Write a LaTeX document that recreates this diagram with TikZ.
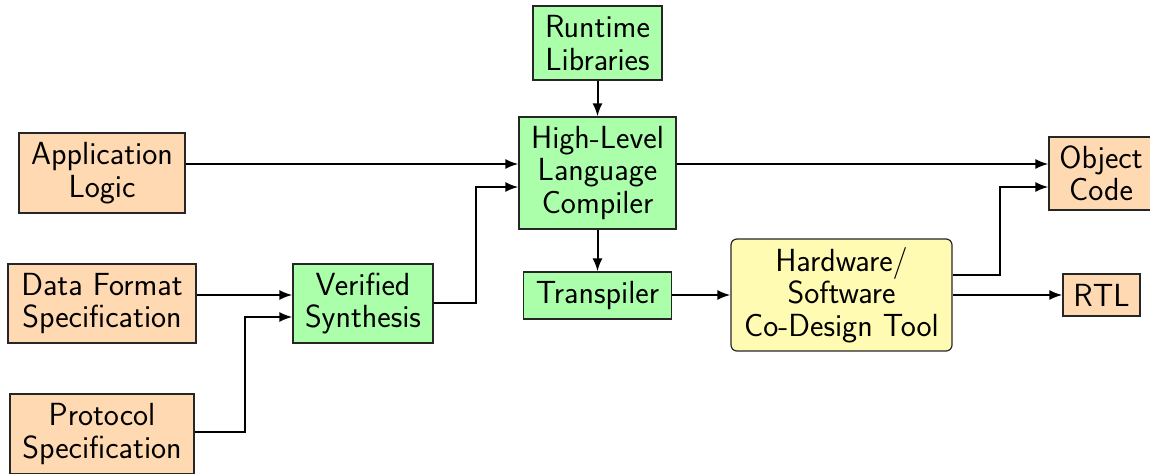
\documentclass[tikz,border=0pt]{standalone}
\usetikzlibrary{arrows.meta,calc}

\tikzset{
  box/.style={draw=black!85, line width=0.6pt, align=center, inner sep=0pt,
              font=\fontsize{16}{16.2}\selectfont\sffamily},
  srcbox/.style={box, fill=orange!30},
  toolbox/.style={box, fill=green!33},
  designbox/.style={box, fill=yellow!30, rounded corners=3pt},
  arr/.style={-{Latex[length=6.5pt,width=5pt]}, line width=1pt},
}

\begin{document}
\begin{tikzpicture}[x=0.5pt, y=-0.5pt]
  \useasboundingbox (0,0) rectangle (1150,474);

  % inputs
  \node[srcbox, minimum width=83pt, minimum height=40pt] (app) at (102,173)
    {Application\\Logic};
  \node[srcbox, minimum width=94pt, minimum height=39.5pt] (data) at (102,303.5)
    {Data Format\\Specification};
  \node[srcbox, minimum width=92pt, minimum height=40pt] (proto) at (102,434)
    {Protocol\\Specification};

  % tool chain
  \node[toolbox, minimum width=70pt, minimum height=39.5pt] (verified) at (363,303.5)
    {Verified\\Synthesis};
  \node[toolbox, minimum width=64.5pt, minimum height=37pt] (runtime) at (597.5,43)
    {Runtime\\Libraries};
  \node[toolbox, minimum width=78.5pt, minimum height=56pt] (hll) at (597.5,173)
    {High-Level\\Language\\Compiler};
  \node[toolbox, minimum width=74pt, minimum height=23.5pt] (trans) at (597.5,295.5)
    {Transpiler};
  \node[designbox, minimum width=110.5pt, minimum height=56pt] (codesign) at (841.5,295)
    {Hardware/\\Software\\Co-Design Tool};

  % outputs
  \node[srcbox, minimum width=52pt, minimum height=36.5pt] (object) at (1101,173.5)
    {Object\\Code};
  \node[srcbox, minimum width=38.5pt, minimum height=21pt] (rtl) at (1101.5,295)
    {RTL};

  % bend points of the routed connectors
  \coordinate (protoup) at (245,317);
  \coordinate (verup) at (476,187);
  \coordinate (codeup) at (1000,187);

  % connectors
  \draw[arr] (runtime.south) -- (hll.north);
  \draw[arr] (app.east |- 0,164) -- (hll.west |- 0,164);
  \draw[arr] (verified.east |- 0,303) -| (verup) -- (hll.west |- verup);
  \draw[arr] (data.east |- 0,295) -- (verified.west |- 0,295);
  \draw[arr] (proto.east |- 0,432) -| (protoup) -- (verified.west |- protoup);
  \draw[arr] (hll.east |- 0,164) -- (object.west |- 0,164);
  \draw[arr] (hll.south) -- (trans.north);
  \draw[arr] (trans.east |- 0,295) -- (codesign.west |- 0,295);
  \draw[arr] (codesign.east |- 0,275) -| (codeup) -- (object.west |- codeup);
  \draw[arr] (codesign.east |- 0,295) -- (rtl.west |- 0,295);
\end{tikzpicture}
\end{document}
